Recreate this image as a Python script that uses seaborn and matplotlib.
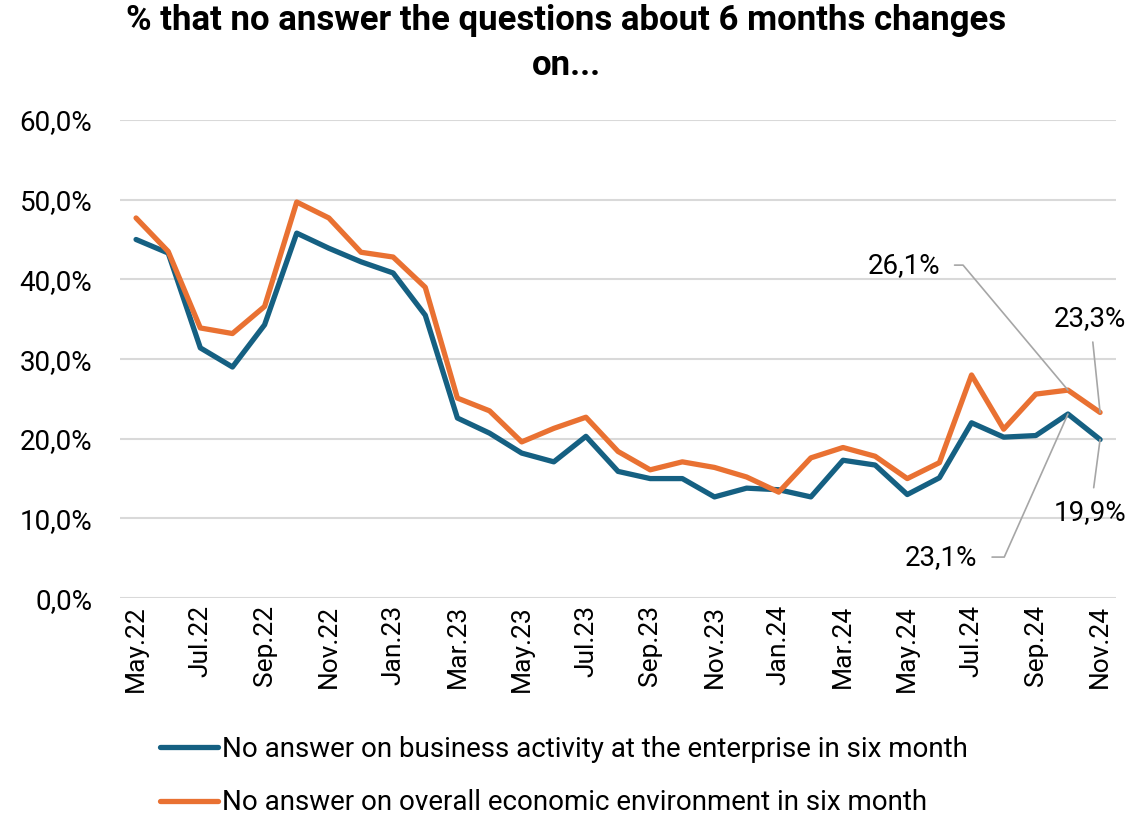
import numpy as np
import pandas as pd
import matplotlib
matplotlib.use("Agg")
import matplotlib.pyplot as plt
from matplotlib.ticker import FuncFormatter
import seaborn as sns

# months May.22 .. Nov.24
months = ["May.22", "Jun.22", "Jul.22", "Aug.22", "Sep.22", "Oct.22", "Nov.22", "Dec.22",
          "Jan.23", "Feb.23", "Mar.23", "Apr.23", "May.23", "Jun.23", "Jul.23", "Aug.23",
          "Sep.23", "Oct.23", "Nov.23", "Dec.23", "Jan.24", "Feb.24", "Mar.24", "Apr.24",
          "May.24", "Jun.24", "Jul.24", "Aug.24", "Sep.24", "Oct.24", "Nov.24"]

business = [45.0, 43.3, 31.4, 29.0, 34.3, 45.8, 43.9, 42.2, 40.8, 35.5,
            22.6, 20.7, 18.2, 17.1, 20.3, 15.9, 15.0, 15.0, 12.7, 13.8,
            13.6, 12.7, 17.3, 16.7, 13.0, 15.1, 22.0, 20.2, 20.4, 23.1, 19.9]

economy = [47.7, 43.5, 33.9, 33.2, 36.6, 49.7, 47.7, 43.4, 42.8, 39.0,
           25.1, 23.5, 19.6, 21.3, 22.7, 18.4, 16.1, 17.1, 16.4, 15.2,
           13.3, 17.6, 18.9, 17.8, 15.0, 17.0, 28.0, 21.2, 25.6, 26.1, 23.3]

series_names = ["No answer on business activity at the enterprise in six month",
                "No answer on overall economic environment in six month"]
colors = ["#156082", "#E97132"]

df = pd.DataFrame({
    "idx": list(range(len(months))) * 2,
    "value": business + economy,
    "series": [series_names[0]] * len(months) + [series_names[1]] * len(months),
})

sns.set_style("white")
plt.rcParams["font.family"] = ["Roboto", "DejaVu Sans"]
plt.rcParams["text.color"] = "black"
plt.rcParams["xtick.color"] = "black"
plt.rcParams["ytick.color"] = "black"

fig = plt.figure(figsize=(11.32, 8.16), dpi=100)
ax = fig.add_axes([0.106, 0.267, 0.88, 0.586])

sns.lineplot(data=df, x="idx", y="value", hue="series", palette=colors,
             linewidth=3.8, ax=ax, legend=False)
for l in ax.lines:
    l.set_solid_capstyle("round")
    l.set_solid_joinstyle("round")

ax.set_ylim(0, 60)
ax.set_xlim(-0.5, len(months) - 0.5)
ax.set_yticks(np.arange(0, 61, 10))
ax.yaxis.set_major_formatter(FuncFormatter(lambda v, p: f"{v:.1f}".replace(".", ",") + "%"))
ax.set_xticks(range(0, len(months), 2))
ax.set_xticklabels(months[::2], rotation=90, fontsize=19)
ax.tick_params(axis="y", labelsize=20, length=0, pad=20)
ax.tick_params(axis="x", length=0, pad=5)
ax.grid(axis="y", color="#d9d9d9", linewidth=1.5)
ax.set_axisbelow(True)
for s in ax.spines.values():
    s.set_visible(False)
ax.set_xlabel("")
ax.set_ylabel("")

fig.suptitle("% that no answer the questions about 6 months changes\non...",
             fontsize=25, fontweight="bold", y=0.995, linespacing=1.45)

# data labels
def fmt(v):
    return f"{v:.1f}".replace(".", ",") + "%"

last = len(months) - 1
ann = dict(arrowstyle="-", color="#a6a6a6", lw=1.2, shrinkB=0)
ax.annotate(fmt(economy[last - 1]), xy=(last - 1, economy[last - 1]),
            xytext=(-92, 90), textcoords="offset points", fontsize=20, ha="right", va="center",
            arrowprops=dict(ann, shrinkA=8, connectionstyle="angle,angleA=0,angleB=-50,rad=0"))
ax.annotate(fmt(business[last - 1]), xy=(last - 1, business[last - 1]),
            xytext=(-65, -103), textcoords="offset points", fontsize=20, ha="right", va="center",
            arrowprops=dict(ann, shrinkA=8, connectionstyle="angle,angleA=0,angleB=66,rad=0"))
ax.annotate(fmt(economy[last]), xy=(last, economy[last]),
            xytext=(-7, 58), textcoords="offset points", fontsize=20, ha="center", va="bottom",
            arrowprops=dict(ann, shrinkA=5))
ax.annotate(fmt(business[last]), xy=(last, business[last]),
            xytext=(-7, -43), textcoords="offset points", fontsize=20, ha="center", va="top",
            arrowprops=dict(ann, shrinkA=6))

handles = [plt.Line2D([], [], color=c, lw=3.8, solid_capstyle="round") for c in colors]
fig.legend(handles, series_names, loc="upper left", bbox_to_anchor=(0.1413, 0.098),
           frameon=False, fontsize=20, handlelength=2.1, handletextpad=0.15,
           labelspacing=0.95, borderpad=0, borderaxespad=0)

fig.savefig("out.png", dpi=100)
